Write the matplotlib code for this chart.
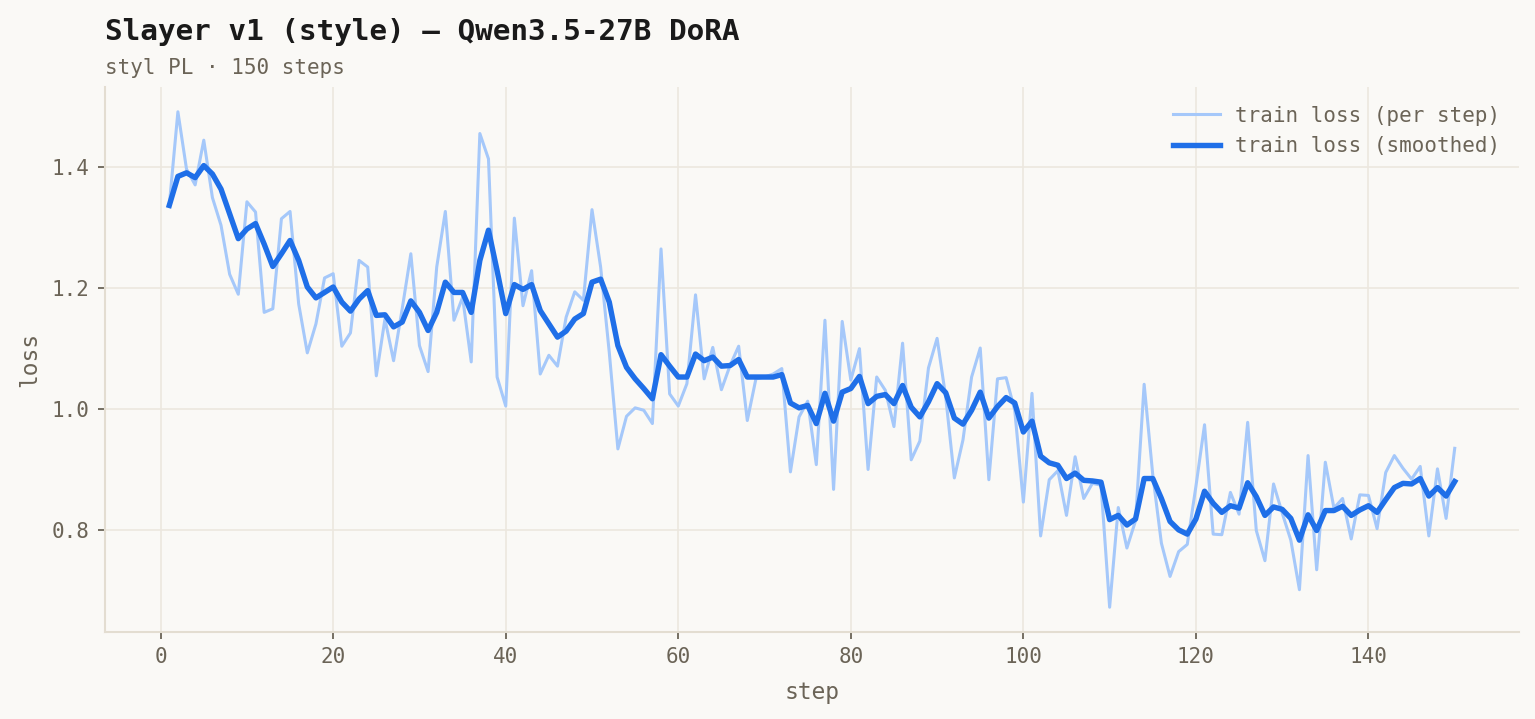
import matplotlib
matplotlib.use("Agg")
import matplotlib.pyplot as plt

steps = list(range(1, 151))

raw_loss = [
    1.337, 1.492, 1.397, 1.371, 1.445, 1.350, 1.304, 1.223, 1.190, 1.343,
    1.326, 1.160, 1.166, 1.315, 1.327, 1.174, 1.093, 1.141, 1.217, 1.224,
    1.104, 1.126, 1.246, 1.235, 1.055, 1.149, 1.080, 1.166, 1.257, 1.105,
    1.062, 1.235, 1.327, 1.147, 1.185, 1.078, 1.456, 1.414, 1.053, 1.005,
    1.316, 1.171, 1.229, 1.058, 1.089, 1.071, 1.152, 1.194, 1.180, 1.330,
    1.235, 1.094, 0.934, 0.988, 1.002, 0.998, 0.976, 1.265, 1.025, 1.005,
    1.042, 1.189, 1.050, 1.102, 1.032, 1.072, 1.104, 0.981, 1.050, 1.053,
    1.058, 1.067, 0.896, 0.987, 1.013, 0.908, 1.147, 0.867, 1.145, 1.048,
    1.100, 0.900, 1.053, 1.031, 0.971, 1.109, 0.916, 0.947, 1.068, 1.117,
    1.020, 0.886, 0.949, 1.053, 1.101, 0.883, 1.050, 1.052, 0.998, 0.846,
    1.026, 0.790, 0.883, 0.898, 0.824, 0.921, 0.852, 0.877, 0.874, 0.672,
    0.837, 0.770, 0.815, 1.041, 0.891, 0.778, 0.723, 0.764, 0.776, 0.872,
    0.974, 0.793, 0.792, 0.862, 0.826, 0.978, 0.799, 0.749, 0.876, 0.828,
    0.783, 0.701, 0.923, 0.734, 0.912, 0.836, 0.852, 0.785, 0.858, 0.857,
    0.802, 0.895, 0.923, 0.902, 0.884, 0.905, 0.790, 0.901, 0.819, 0.935,
]

smooth_loss = [
    1.337, 1.385, 1.391, 1.383, 1.403, 1.389, 1.364, 1.323, 1.282, 1.298,
    1.307, 1.273, 1.236, 1.257, 1.279, 1.246, 1.202, 1.184, 1.193, 1.202,
    1.177, 1.162, 1.182, 1.196, 1.155, 1.156, 1.136, 1.144, 1.179, 1.160,
    1.130, 1.160, 1.210, 1.193, 1.193, 1.160, 1.246, 1.296, 1.229, 1.158,
    1.206, 1.198, 1.206, 1.163, 1.141, 1.119, 1.129, 1.149, 1.158, 1.210,
    1.215, 1.177, 1.105, 1.069, 1.050, 1.034, 1.017, 1.090, 1.071, 1.053,
    1.053, 1.091, 1.080, 1.086, 1.071, 1.072, 1.082, 1.053, 1.053, 1.053,
    1.053, 1.057, 1.010, 1.002, 1.006, 0.976, 1.026, 0.980, 1.028, 1.034,
    1.054, 1.009, 1.021, 1.024, 1.009, 1.039, 1.003, 0.987, 1.012, 1.042,
    1.027, 0.985, 0.975, 0.998, 1.028, 0.985, 1.004, 1.019, 1.010, 0.962,
    0.980, 0.922, 0.911, 0.907, 0.885, 0.894, 0.882, 0.881, 0.879, 0.817,
    0.824, 0.808, 0.818, 0.885, 0.885, 0.852, 0.814, 0.800, 0.793, 0.818,
    0.864, 0.844, 0.829, 0.840, 0.836, 0.878, 0.855, 0.824, 0.838, 0.834,
    0.819, 0.783, 0.825, 0.799, 0.832, 0.832, 0.839, 0.824, 0.833, 0.840,
    0.829, 0.850, 0.870, 0.877, 0.876, 0.885, 0.856, 0.870, 0.856, 0.880,
]

title = "Slayer v1 (style) — Qwen3.5-27B DoRA"
subtitle = "styl PL · 150 steps"
label_raw = "train loss (per step)"
label_smooth = "train loss (smoothed)"

BG = "#faf9f6"
TXT = "#6b6457"
GRID = "#ece7df"
SPINE = "#e3ddd1"

plt.rcParams["font.family"] = ["DejaVu Sans Mono", "DejaVu Sans"]

fig = plt.figure(figsize=(15.35, 7.19), dpi=100, facecolor=BG)
ax = fig.add_axes([105 / 1535, 1 - 632 / 719, (1519 - 105) / 1535, (632 - 87) / 719])
ax.set_facecolor(BG)

ax.plot(steps, raw_loss, color="#a5c8fa", lw=2.2, label=label_raw, zorder=3)
ax.plot(steps, smooth_loss, color="#1f6fe8", lw=3.9, label=label_smooth, zorder=4)

ax.grid(True, color=GRID, lw=1.2, zorder=0)
ax.set_axisbelow(True)
for s in ["top", "right"]:
    ax.spines[s].set_visible(False)
for s in ["left", "bottom"]:
    ax.spines[s].set_color(SPINE)
    ax.spines[s].set_linewidth(1.5)

ax.set_xticks([0, 20, 40, 60, 80, 100, 120, 140])
ax.set_yticks([0.8, 1.0, 1.2, 1.4])
ax.tick_params(axis="both", colors=TXT, labelsize=15, length=5, width=1.3, pad=6)

ax.set_xlabel("step", color=TXT, fontsize=16.5, labelpad=10)
ax.set_ylabel("loss", color=TXT, fontsize=16.5, labelpad=8)

leg = ax.legend(loc="upper right", frameon=False, fontsize=15, handlelength=2.25,
                labelcolor=TXT, borderaxespad=0.5, handletextpad=0.75, labelspacing=0.5)

fig.text(105 / 1535, 1 - 40 / 719, title, fontsize=21.2, fontweight="bold",
         color="#1a1a1a", ha="left", va="baseline")
fig.text(105 / 1535, 1 - 74 / 719, subtitle, fontsize=15, color=TXT,
         ha="left", va="baseline")

fig.savefig("out.png", dpi=100, facecolor=BG)
